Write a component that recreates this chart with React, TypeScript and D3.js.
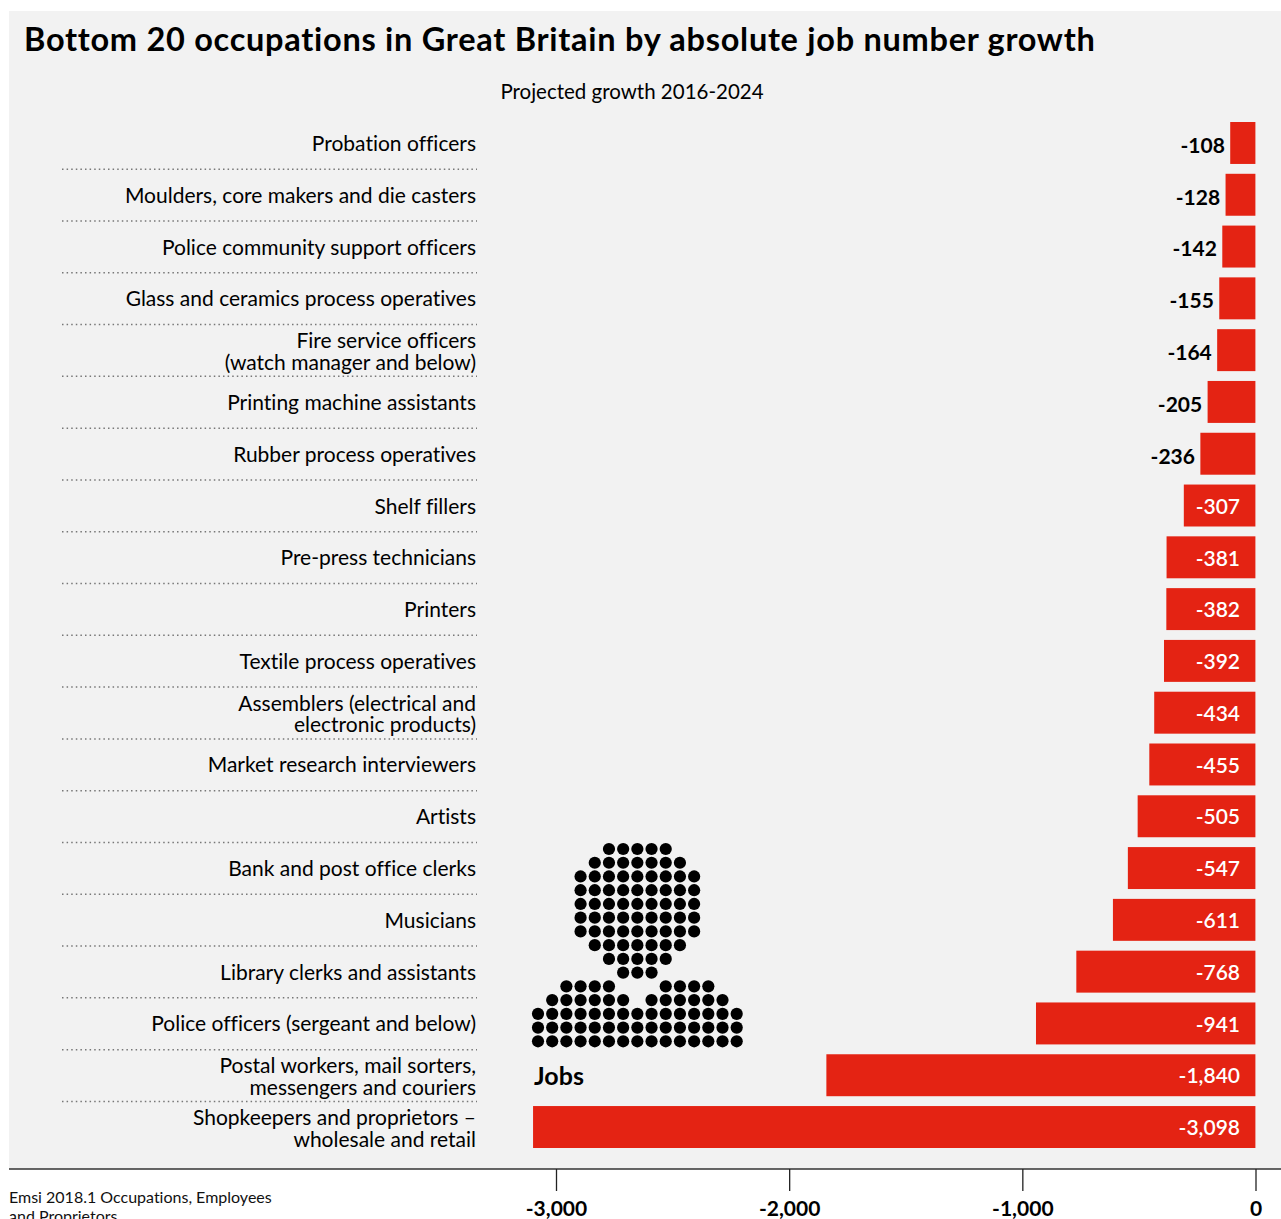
import React from "react";
import * as d3 from "d3";

const occupations: string[][] = [
  ["Probation officers"],
  ["Moulders, core makers and die casters"],
  ["Police community support officers"],
  ["Glass and ceramics process operatives"],
  ["Fire service officers", "(watch manager and below)"],
  ["Printing machine assistants"],
  ["Rubber process operatives"],
  ["Shelf fillers"],
  ["Pre-press technicians"],
  ["Printers"],
  ["Textile process operatives"],
  ["Assemblers (electrical and", "electronic products)"],
  ["Market research interviewers"],
  ["Artists"],
  ["Bank and post office clerks"],
  ["Musicians"],
  ["Library clerks and assistants"],
  ["Police officers (sergeant and below)"],
  ["Postal workers, mail sorters,", "messengers and couriers"],
  ["Shopkeepers and proprietors –", "wholesale and retail"],
];
const growth: number[] = [-108, -128, -142, -155, -164, -205, -236, -307, -381, -382, -392, -434, -455, -505, -547, -611, -768, -941, -1840, -3098];
const axisTicks: number[] = [-3000, -2000, -1000, 0];
const personRows: string[] = [
  ".....#####.....",
  "....#######....",
  "...#########...",
  "...#########...",
  "...#########...",
  "...#########...",
  "...#########...",
  "....#######....",
  ".....#####.....",
  "......###......",
  "..####...####..",
  ".######.######.",
  "###############",
  "###############",
  "###############",
];

const FONT = "Lato, sans-serif";

export default function App() {
  const x = d3.scaleLinear().domain([-3000, 0]).range([556.5, 1256]);
  const y = d3.scaleBand<number>().domain(d3.range(growth.length)).range([122, 1148]).paddingInner(0.19);
  const step = y.step();
  const fmt = (n: number) => d3.format(",")(n).replace("−", "-");
  const px = d3.scaleLinear().domain([0, 14]).range([538, 736.7]);
  const py = d3.scaleLinear().domain([0, 14]).range([849, 1041.3]);
  return (
    <svg width={1281} height={1219} style={{ position: "absolute", left: 0, top: 0, fontFamily: FONT, fontVariantLigatures: "none" }}>
      <rect x={9} y={11} width={1272} height={1158} fill="#f2f2f2" />
      <text x={24} y={51} fontSize={32.5} fontWeight={700} letterSpacing={0.72} fill="#000">Bottom 20 occupations in Great Britain by absolute job number growth</text>
      <text x={632} y={99} fontSize={20.5} textAnchor="middle" fill="#000">Projected growth 2016-2024</text>
      {growth.map((v, i) => {
        const top = y(i)!;
        const bh = y.bandwidth();
        const inside = v <= -300;
        const lines = occupations[i];
        const ruleY = top + bh + (step - bh) / 2 + 0.3;
        return (
          <g key={i}>
            <rect x={x(v) - 0.6} y={top} width={x(0) - x(v)} height={bh} fill="#e42313" />
            <text x={inside ? x(0) - 16 : x(v) - 6} y={top + bh / 2 + (inside ? 8.2 : 9.8)} fontSize={21} fontWeight={inside ? 600 : 700} textAnchor="end" fill={inside ? "#fff" : "#000"}>{fmt(v)}</text>
            {lines.map((l, j) => (
              <text key={j} x={476} y={top + bh / 2 + 9 + (lines.length === 2 ? (j === 0 ? -11 : 10.5) : -1)} fontSize={21} textAnchor="end" fill="#000">{l}</text>
            ))}
            {i < growth.length - 1 && (
              <line x1={62} x2={477} y1={ruleY} y2={ruleY} stroke="#777" strokeWidth={1.5} strokeDasharray="1.5 3.1" />
            )}
          </g>
        );
      })}
      {personRows.flatMap((row, r) =>
        row.split("").map((c, k) => (c === "#" ? <circle key={`${r}-${k}`} cx={px(k)} cy={py(r)} r={6.1} fill="#000" /> : null))
      )}
      <text x={534} y={1085} fontSize={25} fontWeight={700} fill="#000">Jobs</text>
      <line x1={9} x2={1281} y1={1169} y2={1169} stroke="#333" strokeWidth={1.5} />
      {axisTicks.map((t) => (
        <g key={t}>
          <line x1={x(t)} x2={x(t)} y1={1169} y2={1191} stroke="#222" strokeWidth={1.3} />
          <text x={x(t)} y={1216} fontSize={21} fontWeight={700} textAnchor="middle" fill="#000">{fmt(t)}</text>
        </g>
      ))}
      <text x={9} y={1203} fontSize={16} fill="#111">Emsi 2018.1 Occupations, Employees</text>
      <text x={9} y={1222} fontSize={16} fill="#111">and Proprietors</text>
    </svg>
  );
}
